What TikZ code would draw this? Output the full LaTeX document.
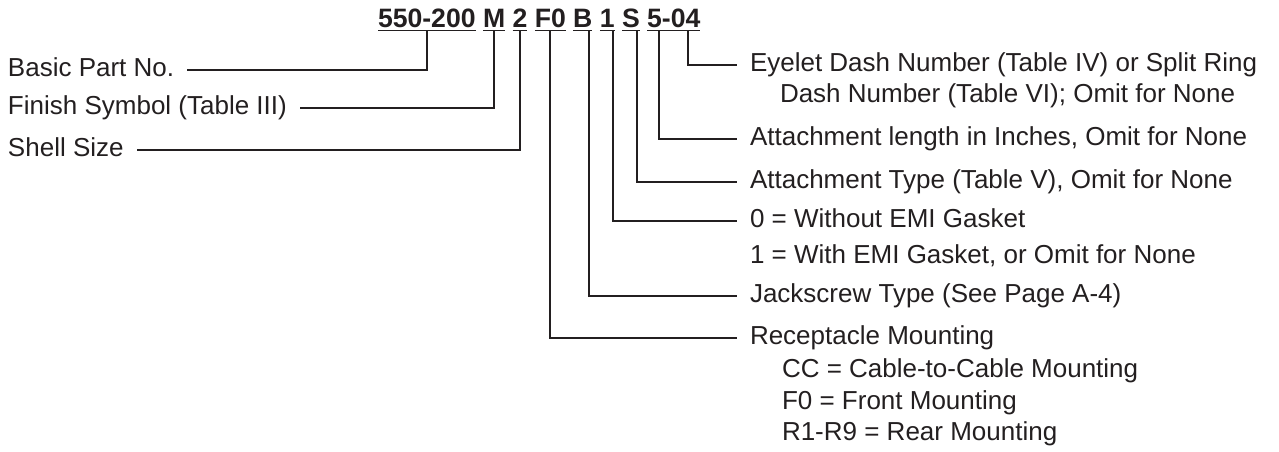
\documentclass[tikz,border=0pt]{standalone}
\usepackage{fontspec}
\setmainfont{Liberation Sans}
\usetikzlibrary{positioning}
\definecolor{ink}{HTML}{231F20}
\begin{document}
\begin{tikzpicture}[x=1pt, y=-1pt, every node/.style={text=ink, inner sep=0pt},
  code/.style={font=\fontsize{26.6}{30}\selectfont\bfseries, text height=19pt, text depth=3pt, outer sep=0pt},
  lbl/.style={font=\fontsize{26}{30}\selectfont, text height=18pt, text depth=5pt, outer xsep=13pt},
  wire/.style={draw=ink, line width=1.9pt}]
  \useasboundingbox (0,0) rectangle (1279,452);

  % part number, one node per field
  \node[code, anchor=base west] (pn) at (378,27.5) {550-200};
  \node[code, right=7.4pt of pn] (fin) {M};
  \node[code, right=7.4pt of fin] (sz) {2};
  \node[code, right=7.4pt of sz] (mnt) {F0};
  \node[code, right=7.4pt of mnt] (jck) {B};
  \node[code, right=7.4pt of jck] (emi) {1};
  \node[code, right=7.4pt of emi] (att) {S};
  \node[code, right=7.4pt of att] (len) {5};
  \node[code, right=0pt of len] (eye) {-04};
  \foreach \n in {pn,fin,sz,mnt,jck,emi,att,len,eye}
    \draw[wire] (\n.south west) -- (\n.south east);

  % left side
  \node[lbl, anchor=west] (basic) at (-5,70) {Basic Part No.};
  \node[lbl, anchor=west] (finish) at (-5,108) {Finish Symbol (Table III)};
  \node[lbl, anchor=west] (shell) at (-5,150) {Shell Size};

  % right side
  \node[lbl, anchor=west] (eyelet) at (737,65) {Eyelet Dash Number (Table IV) or Split Ring};
  \node[lbl, anchor=west] (eyelet2) at (767,96) {Dash Number (Table VI); Omit for None};
  \node[lbl, anchor=west] (alen) at (737,139) {Attachment length in Inches, Omit for None};
  \node[lbl, anchor=west] (atype) at (737,182) {Attachment Type (Table V), Omit for None};
  \node[lbl, anchor=west] (gasket) at (737,221) {0 = Without EMI Gasket};
  \node[lbl, anchor=west] (gasket2) at (737,256.5) {1 = With EMI Gasket, or Omit for None};
  \node[lbl, anchor=west] (jack) at (737,296) {Jackscrew Type (See Page A-4)};
  \node[lbl, anchor=west] (recept) at (737,338) {Receptacle Mounting};
  \node[lbl, anchor=west] (cc) at (769,370.5) {CC = Cable-to-Cable Mounting};
  \node[lbl, anchor=west] (front) at (769,402.5) {F0 = Front Mounting};
  \node[lbl, anchor=west] (rear) at (769,433.5) {R1-R9 = Rear Mounting};

  \draw[wire] (pn.south) |- (basic.east);
  \draw[wire] (fin.south) |- (finish.east);
  \draw[wire] (sz.south) |- (shell.east);
  \draw[wire] (mnt.south) |- (recept.west);
  \draw[wire] ([xshift=-3pt]jck.south east) |- (jack.west);
  \draw[wire] ([xshift=-2pt]emi.south east) |- (gasket.west);
  \draw[wire] ([xshift=-3pt]att.south east) |- (atype.west);
  \draw[wire] ([xshift=-3pt]len.south east) |- (alen.west);
  \draw[wire] ([xshift=7pt]eye.south) |- (eyelet.west);
\end{tikzpicture}
\end{document}
